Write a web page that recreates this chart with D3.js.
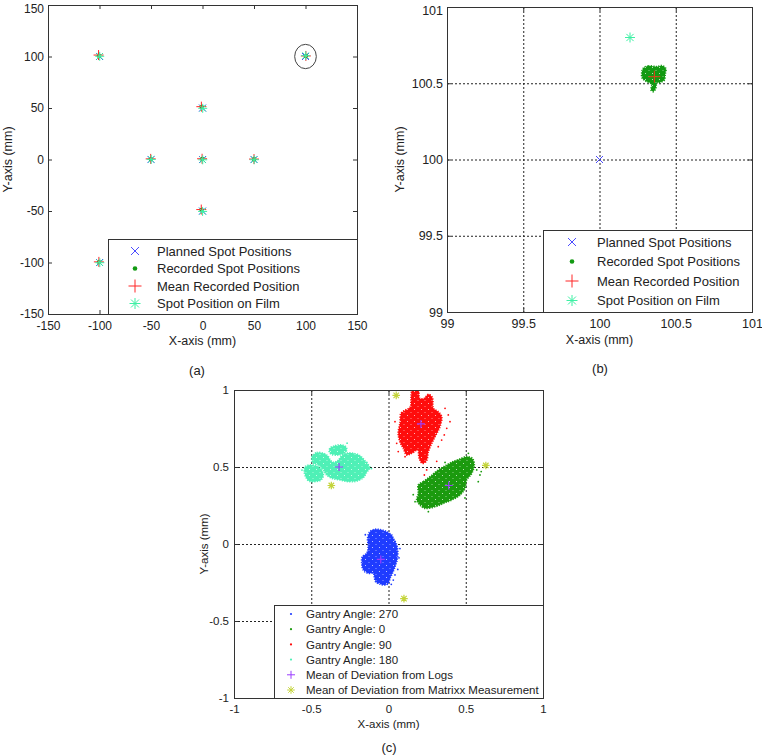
<!DOCTYPE html>
<html>
<head>
<meta charset="utf-8">
<script src="https://cdn.jsdelivr.net/npm/d3@7"></script>
<style>
  body { margin: 0; background: #fff; }
  svg { display: block; }
</style>
</head>
<body>
<svg id="fig" width="762" height="755"></svg>
<script>
// ---------- data: panel (a), whole field (mm) ----------
const plannedA  = [[-100,100],[100,100],[0,50],[-50,0],[0,0],[50,0],[0,-50],[-100,-100],[100,-100]];
const recordedA = [[-100.6,100.8],[100.36,100.54],[-0.8,51.0],[-50.2,0.4],[-0.3,0.5],[50.1,0.3],[-0.9,-48.9],[-100.4,-99.6],[100.3,-99.7]];
const meanA     = [[-100.9,101.4],[100.36,100.54],[-1.1,51.3],[-50.3,0.6],[-0.4,0.7],[50.0,0.4],[-1.2,-48.6],[-100.6,-99.4],[100.3,-99.5]];
const filmA     = [[-99.8,100.2],[100.2,100.8],[0.2,49.7],[-49.8,0.1],[0.2,-0.3],[50.2,-0.2],[0.1,-50.4],[-99.7,-100.2],[100.4,-100.3]];
const ticksA = [-150, -100, -50, 0, 50, 100, 150];
const circledSpotA = [100, 100];

// ---------- data: panel (b), zoom on the (100,100) spot ----------
const plannedB = [[100, 100]];
const filmB    = [[100.2, 100.8]];
const meanB    = [[100.36, 100.543]];
const recordedOutlineB = [
  [100.287,100.598],[100.320,100.613],[100.375,100.609],[100.408,100.615],[100.434,100.598],
  [100.430,100.554],[100.425,100.521],[100.397,100.506],[100.375,100.500],[100.369,100.467],
  [100.353,100.445],[100.338,100.456],[100.342,100.493],[100.303,100.515],[100.281,100.532],
  [100.277,100.565]
];
const ticksB = [99, 99.5, 100, 100.5, 101];

const legendAB = ["Planned Spot Positions", "Recorded Spot Positions", "Mean Recorded Position", "Spot Position on Film"];

// ---------- data: panel (c), deviations per gantry angle (mm) ----------
const gantry270 = [
  [-0.120,0.080],[-0.087,0.095],[-0.044,0.091],[-0.012,0.080],[0.021,0.058],[0.031,0.037],
  [0.053,-0.006],[0.060,-0.060],[0.053,-0.115],[0.042,-0.147],[0.025,-0.190],[0.010,-0.223],
  [-0.001,-0.255],[-0.023,-0.266],[-0.055,-0.260],[-0.083,-0.245],[-0.092,-0.212],[-0.098,-0.190],
  [-0.131,-0.190],[-0.163,-0.169],[-0.173,-0.125],[-0.169,-0.082],[-0.141,-0.060],[-0.131,-0.017],
  [-0.135,0.037]
];
const gantry270Stray = [[0.042,-0.201],[0.031,-0.234],[0.068,-0.090],[0.060,-0.165],[0.074,-0.030],[0.018,-0.262],[-0.150,0.060]];

const gantry0 = [
  [0.193,0.383],[0.225,0.405],[0.269,0.437],[0.322,0.481],[0.377,0.513],[0.419,0.535],
  [0.463,0.552],[0.506,0.567],[0.542,0.556],[0.555,0.513],[0.539,0.459],[0.506,0.416],
  [0.495,0.362],[0.463,0.318],[0.409,0.286],[0.355,0.264],[0.301,0.242],[0.236,0.232],
  [0.204,0.253],[0.183,0.286],[0.193,0.329]
];
const gantry0Stray = [[0.581,0.405],[0.592,0.448],[0.258,0.210],[0.172,0.275],[0.495,0.299],[0.571,0.481],[0.366,0.530],[0.517,0.589],[0.160,0.320],[0.600,0.470]];

const gantry90 = [
  [0.154,0.998],[0.193,0.998],[0.202,0.946],[0.232,0.946],[0.258,0.972],[0.284,0.950],
  [0.290,0.881],[0.322,0.859],[0.344,0.827],[0.333,0.762],[0.301,0.697],[0.280,0.654],
  [0.258,0.600],[0.245,0.539],[0.219,0.524],[0.199,0.556],[0.189,0.610],[0.150,0.589],
  [0.118,0.578],[0.096,0.621],[0.074,0.664],[0.063,0.719],[0.074,0.784],[0.081,0.849],
  [0.111,0.870],[0.141,0.890],[0.146,0.946]
];
const gantry90Stray = [[0.387,0.838],[0.398,0.794],[0.377,0.751],[0.361,0.708],[0.344,0.675],[0.322,0.632],
  [0.053,0.654],[0.063,0.600],[0.107,0.567],[0.247,0.481],[0.232,0.448],[0.042,0.794],[0.366,0.881],[0.312,0.537]];

const gantry180 = [
  [-0.493,0.573],[-0.465,0.593],[-0.422,0.589],[-0.394,0.573],[-0.372,0.539],[-0.351,0.530],
  [-0.325,0.545],[-0.303,0.573],[-0.271,0.589],[-0.228,0.589],[-0.184,0.573],[-0.152,0.539],
  [-0.126,0.508],[-0.120,0.495],[-0.141,0.466],[-0.163,0.431],[-0.206,0.409],[-0.260,0.405],
  [-0.314,0.416],[-0.368,0.427],[-0.400,0.448],[-0.422,0.481],[-0.454,0.513],[-0.487,0.524],
  [-0.497,0.552]
];
const gantry180Top = [
  [-0.379,0.621],[-0.346,0.638],[-0.303,0.643],[-0.277,0.632],[-0.271,0.610],
  [-0.286,0.589],[-0.325,0.578],[-0.368,0.582],[-0.383,0.599]
];
const gantry180Lobe = [
  [-0.540,0.502],[-0.508,0.513],[-0.465,0.506],[-0.432,0.481],[-0.422,0.444],
  [-0.437,0.416],[-0.476,0.405],[-0.515,0.409],[-0.536,0.437],[-0.545,0.470]
];
const gantry180Stray = [[-0.110,0.490],[-0.140,0.530],[-0.268,0.655],[-0.560,0.480],[-0.250,0.570]];

const meanLogs    = [[-0.05,-0.10],[0.39,0.38],[0.21,0.78],[-0.32,0.50]];
const meanMatrixx = [[0.10,-0.355],[0.63,0.51],[0.05,0.965],[-0.37,0.38]];
const ticksC = [-1, -0.5, 0, 0.5, 1];

const legendC = ["Gantry Angle: 270", "Gantry Angle: 0", "Gantry Angle: 90", "Gantry Angle: 180",
                 "Mean of Deviation from Logs", "Mean of Deviation from Matrixx Measurement"];

// ---------- colours ----------
const cPlanned = "#4b4bff", cRecorded = "#129a12", cMean = "#ff2626", cFilm = "#3df0a4";
const cG270 = "#1f3cff", cG0 = "#1b9a0e", cG90 = "#ff0d0d", cG180 = "#4ff0b6";
const cLogs = "#9a3cff", cMatrixx = "#c4d43a";

const FONT = '"Liberation Sans", Arial, Helvetica, sans-serif';
const svg = d3.select("#fig");
svg.append("rect").attr("width", 762).attr("height", 755).attr("fill", "#fff");

// light speckle so the dense point clouds don't look like flat shapes
const defs = svg.append("defs");
const speck = defs.append("pattern").attr("id", "speckle")
  .attr("width", 7).attr("height", 6).attr("patternUnits", "userSpaceOnUse");
speck.append("rect").attr("x", 1).attr("y", 1).attr("width", 1).attr("height", 1).attr("fill", "#fff").attr("opacity", 0.7);
speck.append("rect").attr("x", 4.5).attr("y", 4).attr("width", 1).attr("height", 1).attr("fill", "#fff").attr("opacity", 0.5);

function symbol(g, type, cx, cy, s, color, sw = 1) {
  if (type === "dot") {
    g.append("circle").attr("cx", cx).attr("cy", cy).attr("r", s).attr("fill", color);
    return;
  }
  let d = "";
  if (type === "+" || type === "*") d += `M${cx - s},${cy}H${cx + s}M${cx},${cy - s}V${cy + s}`;
  if (type === "x" || type === "*") {
    const k = type === "*" ? s * 0.72 : s;
    d += `M${cx - k},${cy - k}L${cx + k},${cy + k}M${cx - k},${cy + k}L${cx + k},${cy - k}`;
  }
  g.append("path").attr("d", d).attr("fill", "none").attr("stroke", color).attr("stroke-width", sw);
}

function panel(cfg) {
  const x = d3.scaleLinear().domain(cfg.domain).range([cfg.left, cfg.right]);
  const y = d3.scaleLinear().domain(cfg.domain).range([cfg.bottom, cfg.top]);
  const g = svg.append("g");
  const id = "clip-" + cfg.name;
  g.append("clipPath").attr("id", id).append("rect")
    .attr("x", cfg.left).attr("y", cfg.top)
    .attr("width", cfg.right - cfg.left).attr("height", cfg.bottom - cfg.top);

  if (cfg.grid) {
    const inner = cfg.ticks.slice(1, -1);
    const grid = g.append("g").attr("stroke", "#222").attr("stroke-width", 1).attr("stroke-dasharray", "2,2");
    grid.selectAll("line.gx").data(inner).join("line").attr("class", "gx")
      .attr("x1", d => x(d) + 0.5).attr("x2", d => x(d) + 0.5)
      .attr("y1", cfg.top).attr("y2", cfg.bottom);
    grid.selectAll("line.gy").data(inner).join("line").attr("class", "gy")
      .attr("y1", d => y(d) + 0.5).attr("y2", d => y(d) + 0.5)
      .attr("x1", cfg.left).attr("x2", cfg.right);
  }
  const plot = g.append("g").attr("clip-path", `url(#${id})`);
  return { x, y, g, plot, cfg };
}

function frame(P) {
  const { x, y, g, cfg } = P;
  const fmt = d => String(d);
  const tick = 4;
  g.append("g").attr("transform", `translate(0,${cfg.bottom})`)
    .call(d3.axisBottom(x).tickValues(cfg.ticks).tickSizeInner(-tick).tickSizeOuter(0).tickPadding(cfg.padX).tickFormat(fmt));
  const yAxis = g.append("g").attr("transform", `translate(${cfg.left},0)`)
    .call(d3.axisLeft(y).tickValues(cfg.ticks).tickSizeInner(-tick).tickSizeOuter(0).tickPadding(cfg.padY).tickFormat(fmt));
  // keep the topmost label inside the page when the axes sit at the very top
  if (cfg.top < 8) {
    yAxis.selectAll(".tick text").filter(d => d === cfg.ticks[cfg.ticks.length - 1])
      .attr("dy", "0.62em");
  }
  g.append("g").attr("transform", `translate(0,${cfg.top})`)
    .call(d3.axisTop(x).tickValues(cfg.ticks).tickSizeInner(-tick).tickSizeOuter(0).tickFormat(""));
  g.append("g").attr("transform", `translate(${cfg.right},0)`)
    .call(d3.axisRight(y).tickValues(cfg.ticks).tickSizeInner(-tick).tickSizeOuter(0).tickFormat(""));
  g.selectAll(".domain").remove();
  g.selectAll(".tick line").attr("stroke", "#333");
  g.selectAll(".tick text").attr("fill", "#222").attr("font-family", FONT).attr("font-size", cfg.tickFont);

  g.append("rect")
    .attr("x", cfg.left + 0.5).attr("y", cfg.top + 0.5)
    .attr("width", cfg.right - cfg.left).attr("height", cfg.bottom - cfg.top)
    .attr("fill", "none").attr("stroke", "#333").attr("stroke-width", 1);

  g.append("text")
    .attr("x", (cfg.left + cfg.right) / 2).attr("y", cfg.xLabelY)
    .attr("text-anchor", "middle").attr("font-family", FONT).attr("font-size", cfg.labelFont).attr("fill", "#222")
    .text("X-axis (mm)");
  g.append("text")
    .attr("transform", `translate(${cfg.yLabelX},${(cfg.top + cfg.bottom) / 2}) rotate(-90)`)
    .attr("text-anchor", "middle").attr("font-family", FONT).attr("font-size", cfg.labelFont).attr("fill", "#222")
    .text("Y-axis (mm)");
  g.append("text")
    .attr("x", cfg.tagX).attr("y", cfg.tagY)
    .attr("text-anchor", "middle").attr("font-family", FONT).attr("font-size", 13).attr("fill", "#222")
    .text(cfg.tag);
}

function legend(P, box, items, font) {
  const lg = P.g.append("g");
  lg.append("rect")
    .attr("x", box.x + 0.5).attr("y", box.y + 0.5).attr("width", box.w).attr("height", box.h)
    .attr("fill", "#fff").attr("stroke", "#333").attr("stroke-width", 1);
  items.forEach((it, i) => {
    const cy = box.row0 + i * box.step;
    symbol(lg, it.type, box.mx, cy, it.size, it.color, it.sw || 1);
    lg.append("text")
      .attr("x", box.tx).attr("y", cy).attr("dy", "0.36em")
      .attr("font-family", FONT).attr("font-size", font).attr("fill", "#222")
      .text(it.label);
  });
}

const blob = (P) => d3.line().x(d => P.x(d[0])).y(d => P.y(d[1])).curve(d3.curveCatmullRomClosed.alpha(0.5));

function cluster(P, outline, color) {
  const d = blob(P)(outline);
  P.plot.append("path").attr("d", d)
    .attr("fill", color).attr("stroke", color)
    .attr("stroke-width", 1.8).attr("stroke-dasharray", "1.2,1.3");
  P.plot.append("path").attr("d", d).attr("fill", "url(#speckle)");
}
function stray(P, pts, color) {
  P.plot.selectAll(null).data(pts).join("circle")
    .attr("cx", d => P.x(d[0])).attr("cy", d => P.y(d[1])).attr("r", 0.9).attr("fill", color);
}

// ================= panel (a) =================
const A = panel({ name: "a", domain: [-150, 150], ticks: ticksA, left: 48, right: 357, top: 5, bottom: 314,
  padX: 7, padY: 4, tickFont: 12, labelFont: 12.5, xLabelY: 345, yLabelX: 12, tag: "(a)", tagX: 197, tagY: 375 });

plannedA.forEach(d => symbol(A.plot, "x", A.x(d[0]), A.y(d[1]), 3.5, cPlanned));
recordedA.forEach(d => symbol(A.plot, "dot", A.x(d[0]), A.y(d[1]), 2.2, cRecorded));
meanA.forEach(d => symbol(A.plot, "+", A.x(d[0]), A.y(d[1]), 5, cMean));
filmA.forEach(d => symbol(A.plot, "*", A.x(d[0]), A.y(d[1]), 4.5, cFilm));

A.plot.append("ellipse")
  .attr("cx", A.x(circledSpotA[0])).attr("cy", A.y(circledSpotA[1]))
  .attr("rx", A.x(circledSpotA[0] + 10.5) - A.x(circledSpotA[0]))
  .attr("ry", A.y(circledSpotA[1]) - A.y(circledSpotA[1] + 11.8))
  .attr("fill", "none").attr("stroke", "#444").attr("stroke-width", 1);

frame(A);
legend(A, { x: 108, y: 239, w: 249, h: 75, row0: 251, step: 17.5, mx: 135, tx: 157 }, [
  { type: "x", size: 4, color: cPlanned, label: legendAB[0] },
  { type: "dot", size: 2.3, color: cRecorded, label: legendAB[1] },
  { type: "+", size: 6.5, color: cMean, label: legendAB[2] },
  { type: "*", size: 5.5, color: cFilm, label: legendAB[3] }
], 13);

// ================= panel (b) =================
const B = panel({ name: "b", domain: [99, 101], ticks: ticksB, left: 447, right: 752, top: 7, bottom: 312, grid: true,
  padX: 7, padY: 4, tickFont: 12.5, labelFont: 12.5, xLabelY: 344, yLabelX: 404, tag: "(b)", tagX: 600, tagY: 373 });

cluster(B, recordedOutlineB, cRecorded);
plannedB.forEach(d => symbol(B.plot, "x", B.x(d[0]), B.y(d[1]), 3.5, cPlanned));
meanB.forEach(d => symbol(B.plot, "+", B.x(d[0]), B.y(d[1]), 6, "#e0401c"));
filmB.forEach(d => symbol(B.plot, "*", B.x(d[0]), B.y(d[1]), 5, cFilm));

frame(B);
legend(B, { x: 543, y: 230, w: 209, h: 82, row0: 242, step: 19.5, mx: 572, tx: 597 }, [
  { type: "x", size: 4, color: cPlanned, label: legendAB[0] },
  { type: "dot", size: 2.3, color: cRecorded, label: legendAB[1] },
  { type: "+", size: 6.5, color: cMean, label: legendAB[2] },
  { type: "*", size: 5.5, color: cFilm, label: legendAB[3] }
], 13);

// ================= panel (c) =================
const C = panel({ name: "c", domain: [-1, 1], ticks: ticksC, left: 234, right: 543, top: 390, bottom: 698, grid: true,
  padX: 7, padY: 5, tickFont: 11.5, labelFont: 11.5, xLabelY: 728, yLabelX: 208, tag: "(c)", tagX: 389, tagY: 752 });

cluster(C, gantry270, cG270); stray(C, gantry270Stray, cG270);
cluster(C, gantry0, cG0);     stray(C, gantry0Stray, cG0);
cluster(C, gantry90, cG90);   stray(C, gantry90Stray, cG90);
cluster(C, gantry180, cG180); cluster(C, gantry180Top, cG180); cluster(C, gantry180Lobe, cG180);
stray(C, gantry180Stray, cG180);

meanLogs.forEach(d => symbol(C.plot, "+", C.x(d[0]), C.y(d[1]), 4, cLogs, 1.2));
meanMatrixx.forEach(d => symbol(C.plot, "*", C.x(d[0]), C.y(d[1]), 3.8, cMatrixx, 1.2));

frame(C);
legend(C, { x: 274, y: 605, w: 269, h: 93, row0: 614, step: 15.2, mx: 291, tx: 306 }, [
  { type: "dot", size: 1.1, color: cG270, label: legendC[0] },
  { type: "dot", size: 1.1, color: cG0, label: legendC[1] },
  { type: "dot", size: 1.1, color: cG90, label: legendC[2] },
  { type: "dot", size: 1.1, color: cG180, label: legendC[3] },
  { type: "+", size: 4, color: cLogs, label: legendC[4] },
  { type: "*", size: 3.8, color: cMatrixx, label: legendC[5] }
], 11.5);
</script>
</body>
</html>
